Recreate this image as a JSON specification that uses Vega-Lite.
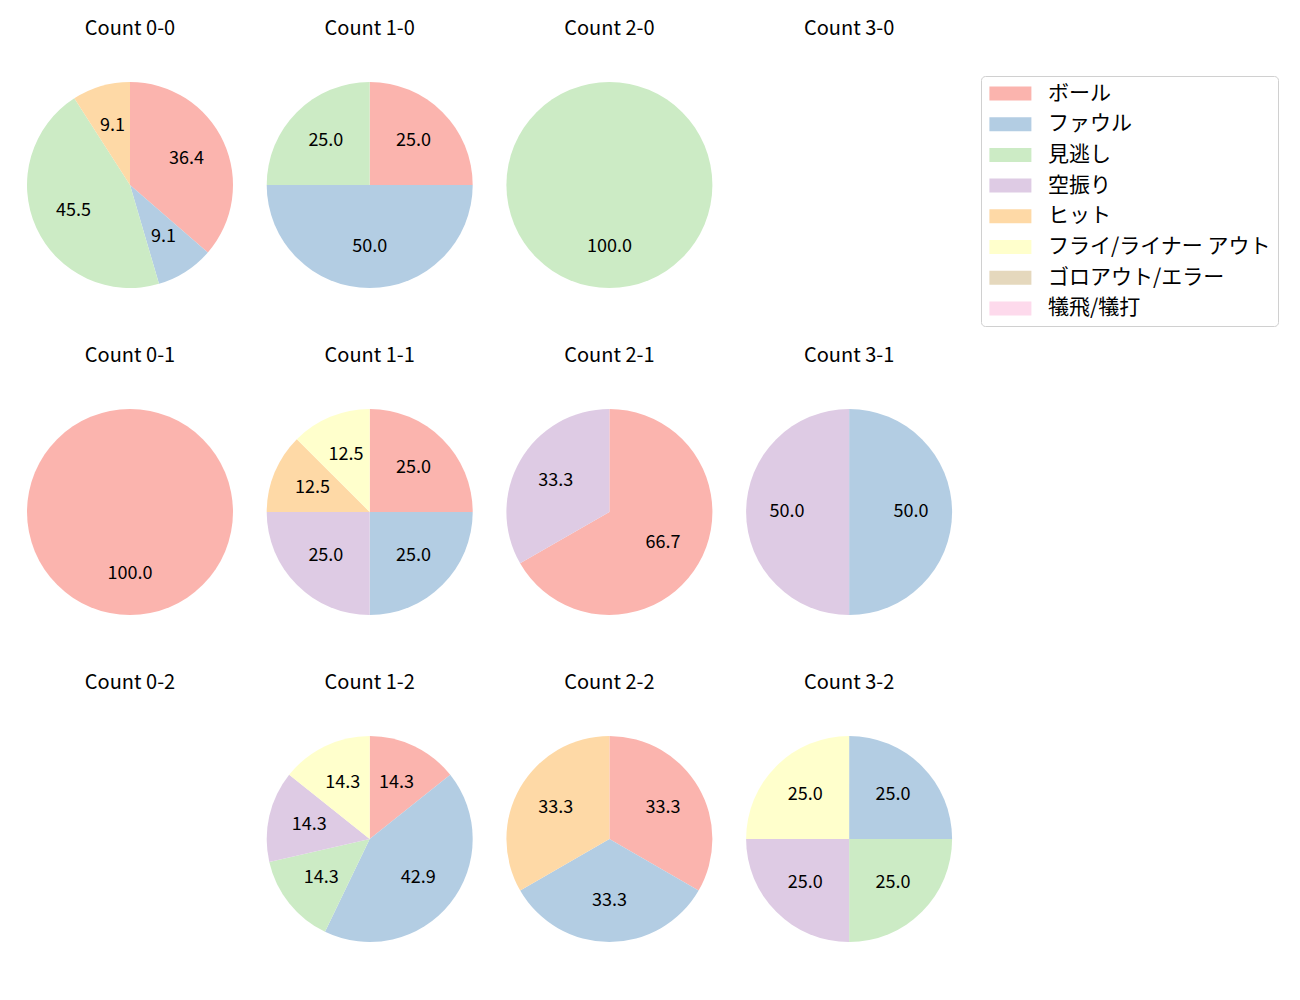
{
  "$schema": "https://vega.github.io/schema/vega-lite/v6.json",
  "padding": {"left": 27, "top": 19, "right": 5, "bottom": 5},
  "background": "white",
  "config": {
    "view": {"stroke": null},
    "font": "Noto Sans CJK JP",
    "title": {"font": "Noto Sans CJK JP", "fontSize": 20, "fontWeight": "normal", "color": "black", "baseline": "bottom", "offset": 43}
  },
  "data": {"values": [
    {"count": "0-0", "cat": "ボール", "o": 1, "v": 36.4},
    {"count": "0-0", "cat": "ファウル", "o": 2, "v": 9.1},
    {"count": "0-0", "cat": "見逃し", "o": 3, "v": 45.5},
    {"count": "0-0", "cat": "ヒット", "o": 5, "v": 9.1},
    {"count": "1-0", "cat": "ボール", "o": 1, "v": 25.0},
    {"count": "1-0", "cat": "ファウル", "o": 2, "v": 50.0},
    {"count": "1-0", "cat": "見逃し", "o": 3, "v": 25.0},
    {"count": "2-0", "cat": "見逃し", "o": 3, "v": 100.0},
    {"count": "0-1", "cat": "ボール", "o": 1, "v": 100.0},
    {"count": "1-1", "cat": "ボール", "o": 1, "v": 25.0},
    {"count": "1-1", "cat": "ファウル", "o": 2, "v": 25.0},
    {"count": "1-1", "cat": "空振り", "o": 4, "v": 25.0},
    {"count": "1-1", "cat": "ヒット", "o": 5, "v": 12.5},
    {"count": "1-1", "cat": "フライ/ライナー アウト", "o": 6, "v": 12.5},
    {"count": "2-1", "cat": "ボール", "o": 1, "v": 66.7},
    {"count": "2-1", "cat": "空振り", "o": 4, "v": 33.3},
    {"count": "3-1", "cat": "ファウル", "o": 2, "v": 50.0},
    {"count": "3-1", "cat": "空振り", "o": 4, "v": 50.0},
    {"count": "1-2", "cat": "ボール", "o": 1, "v": 14.3},
    {"count": "1-2", "cat": "ファウル", "o": 2, "v": 42.9},
    {"count": "1-2", "cat": "見逃し", "o": 3, "v": 14.3},
    {"count": "1-2", "cat": "空振り", "o": 4, "v": 14.3},
    {"count": "1-2", "cat": "フライ/ライナー アウト", "o": 6, "v": 14.3},
    {"count": "2-2", "cat": "ボール", "o": 1, "v": 33.3},
    {"count": "2-2", "cat": "ファウル", "o": 2, "v": 33.3},
    {"count": "2-2", "cat": "ヒット", "o": 5, "v": 33.3},
    {"count": "3-2", "cat": "ファウル", "o": 2, "v": 25.0},
    {"count": "3-2", "cat": "見逃し", "o": 3, "v": 25.0},
    {"count": "3-2", "cat": "空振り", "o": 4, "v": 25.0},
    {"count": "3-2", "cat": "フライ/ライナー アウト", "o": 6, "v": 25.0}
  ]},
  "columns": 4,
  "spacing": {"row": 58, "column": 33.7},
  "resolve": {"scale": {"theta": "independent"}},
  "concat": [
    {"title": "Count 0-0", "transform": [{"filter": "datum.count == '0-0'"}], "width": 206, "height": 206,
     "layer": [
      {"mark": {"type": "arc", "outerRadius": 103},
       "encoding": {
         "theta": {"field": "v", "type": "quantitative", "stack": true},
         "order": {"field": "o", "type": "quantitative"},
         "color": {"field": "cat", "type": "nominal",
           "scale": {"domain": ["ボール", "ファウル", "見逃し", "空振り", "ヒット", "フライ/ライナー アウト", "ゴロアウト/エラー", "犠飛/犠打"],
                     "range": ["#fbb4ae", "#b3cde3", "#ccebc5", "#decbe4", "#fed9a6", "#ffffcc", "#e5d8bd", "#fddaec"]},
           "legend": {"title": null, "orient": "none", "legendX": 954, "legendY": -6,
             "symbolType": "M-1.3,-1L4.7,-1L4.7,1L-1.3,1Z", "symbolSize": 196, "symbolStrokeWidth": 0, "symbolOpacity": 1,
             "labelFont": "Noto Sans CJK JP", "labelFontSize": 21, "labelColor": "black", "labelOffset": 39, "rowPadding": 8.7,
             "padding": 7, "strokeColor": "#d0d0d0", "cornerRadius": 4, "fillColor": "white", "labelLimit": 400}}}},
      {"mark": {"type": "text", "radius": 62, "fontSize": 18, "font": "Noto Sans CJK JP", "color": "black"},
       "encoding": {
         "theta": {"field": "v", "type": "quantitative", "stack": true},
         "order": {"field": "o", "type": "quantitative"},
         "text": {"field": "v", "type": "quantitative", "format": ".1f"}}}
     ]},
    {"title": "Count 1-0", "transform": [{"filter": "datum.count == '1-0'"}], "width": 206, "height": 206,
     "layer": [
      {"mark": {"type": "arc", "outerRadius": 103},
       "encoding": {"theta": {"field": "v", "type": "quantitative", "stack": true}, "order": {"field": "o", "type": "quantitative"}, "color": {"field": "cat", "type": "nominal"}}},
      {"mark": {"type": "text", "radius": 62, "fontSize": 18, "font": "Noto Sans CJK JP", "color": "black"},
       "encoding": {"theta": {"field": "v", "type": "quantitative", "stack": true}, "order": {"field": "o", "type": "quantitative"}, "text": {"field": "v", "type": "quantitative", "format": ".1f"}}}
     ]},
    {"title": "Count 2-0", "transform": [{"filter": "datum.count == '2-0'"}], "width": 206, "height": 206,
     "layer": [
      {"mark": {"type": "arc", "outerRadius": 103},
       "encoding": {"theta": {"field": "v", "type": "quantitative", "stack": true}, "order": {"field": "o", "type": "quantitative"}, "color": {"field": "cat", "type": "nominal"}}},
      {"mark": {"type": "text", "radius": 62, "fontSize": 18, "font": "Noto Sans CJK JP", "color": "black"},
       "encoding": {"theta": {"field": "v", "type": "quantitative", "stack": true}, "order": {"field": "o", "type": "quantitative"}, "text": {"field": "v", "type": "quantitative", "format": ".1f"}}}
     ]},
    {"title": "Count 3-0", "transform": [{"filter": "datum.count == '3-0'"}], "width": 206, "height": 206,
     "layer": [
      {"mark": {"type": "arc", "outerRadius": 103},
       "encoding": {"theta": {"field": "v", "type": "quantitative", "stack": true}, "order": {"field": "o", "type": "quantitative"}, "color": {"field": "cat", "type": "nominal"}}}
     ]},
    {"title": "Count 0-1", "transform": [{"filter": "datum.count == '0-1'"}], "width": 206, "height": 206,
     "layer": [
      {"mark": {"type": "arc", "outerRadius": 103},
       "encoding": {"theta": {"field": "v", "type": "quantitative", "stack": true}, "order": {"field": "o", "type": "quantitative"}, "color": {"field": "cat", "type": "nominal"}}},
      {"mark": {"type": "text", "radius": 62, "fontSize": 18, "font": "Noto Sans CJK JP", "color": "black"},
       "encoding": {"theta": {"field": "v", "type": "quantitative", "stack": true}, "order": {"field": "o", "type": "quantitative"}, "text": {"field": "v", "type": "quantitative", "format": ".1f"}}}
     ]},
    {"title": "Count 1-1", "transform": [{"filter": "datum.count == '1-1'"}], "width": 206, "height": 206,
     "layer": [
      {"mark": {"type": "arc", "outerRadius": 103},
       "encoding": {"theta": {"field": "v", "type": "quantitative", "stack": true}, "order": {"field": "o", "type": "quantitative"}, "color": {"field": "cat", "type": "nominal"}}},
      {"mark": {"type": "text", "radius": 62, "fontSize": 18, "font": "Noto Sans CJK JP", "color": "black"},
       "encoding": {"theta": {"field": "v", "type": "quantitative", "stack": true}, "order": {"field": "o", "type": "quantitative"}, "text": {"field": "v", "type": "quantitative", "format": ".1f"}}}
     ]},
    {"title": "Count 2-1", "transform": [{"filter": "datum.count == '2-1'"}], "width": 206, "height": 206,
     "layer": [
      {"mark": {"type": "arc", "outerRadius": 103},
       "encoding": {"theta": {"field": "v", "type": "quantitative", "stack": true}, "order": {"field": "o", "type": "quantitative"}, "color": {"field": "cat", "type": "nominal"}}},
      {"mark": {"type": "text", "radius": 62, "fontSize": 18, "font": "Noto Sans CJK JP", "color": "black"},
       "encoding": {"theta": {"field": "v", "type": "quantitative", "stack": true}, "order": {"field": "o", "type": "quantitative"}, "text": {"field": "v", "type": "quantitative", "format": ".1f"}}}
     ]},
    {"title": "Count 3-1", "transform": [{"filter": "datum.count == '3-1'"}], "width": 206, "height": 206,
     "layer": [
      {"mark": {"type": "arc", "outerRadius": 103},
       "encoding": {"theta": {"field": "v", "type": "quantitative", "stack": true}, "order": {"field": "o", "type": "quantitative"}, "color": {"field": "cat", "type": "nominal"}}},
      {"mark": {"type": "text", "radius": 62, "fontSize": 18, "font": "Noto Sans CJK JP", "color": "black"},
       "encoding": {"theta": {"field": "v", "type": "quantitative", "stack": true}, "order": {"field": "o", "type": "quantitative"}, "text": {"field": "v", "type": "quantitative", "format": ".1f"}}}
     ]},
    {"title": "Count 0-2", "transform": [{"filter": "datum.count == '0-2'"}], "width": 206, "height": 206,
     "layer": [
      {"mark": {"type": "arc", "outerRadius": 103},
       "encoding": {"theta": {"field": "v", "type": "quantitative", "stack": true}, "order": {"field": "o", "type": "quantitative"}, "color": {"field": "cat", "type": "nominal"}}}
     ]},
    {"title": "Count 1-2", "transform": [{"filter": "datum.count == '1-2'"}], "width": 206, "height": 206,
     "layer": [
      {"mark": {"type": "arc", "outerRadius": 103},
       "encoding": {"theta": {"field": "v", "type": "quantitative", "stack": true}, "order": {"field": "o", "type": "quantitative"}, "color": {"field": "cat", "type": "nominal"}}},
      {"mark": {"type": "text", "radius": 62, "fontSize": 18, "font": "Noto Sans CJK JP", "color": "black"},
       "encoding": {"theta": {"field": "v", "type": "quantitative", "stack": true}, "order": {"field": "o", "type": "quantitative"}, "text": {"field": "v", "type": "quantitative", "format": ".1f"}}}
     ]},
    {"title": "Count 2-2", "transform": [{"filter": "datum.count == '2-2'"}], "width": 206, "height": 206,
     "layer": [
      {"mark": {"type": "arc", "outerRadius": 103},
       "encoding": {"theta": {"field": "v", "type": "quantitative", "stack": true}, "order": {"field": "o", "type": "quantitative"}, "color": {"field": "cat", "type": "nominal"}}},
      {"mark": {"type": "text", "radius": 62, "fontSize": 18, "font": "Noto Sans CJK JP", "color": "black"},
       "encoding": {"theta": {"field": "v", "type": "quantitative", "stack": true}, "order": {"field": "o", "type": "quantitative"}, "text": {"field": "v", "type": "quantitative", "format": ".1f"}}}
     ]},
    {"title": "Count 3-2", "transform": [{"filter": "datum.count == '3-2'"}], "width": 206, "height": 206,
     "layer": [
      {"mark": {"type": "arc", "outerRadius": 103},
       "encoding": {"theta": {"field": "v", "type": "quantitative", "stack": true}, "order": {"field": "o", "type": "quantitative"}, "color": {"field": "cat", "type": "nominal"}}},
      {"mark": {"type": "text", "radius": 62, "fontSize": 18, "font": "Noto Sans CJK JP", "color": "black"},
       "encoding": {"theta": {"field": "v", "type": "quantitative", "stack": true}, "order": {"field": "o", "type": "quantitative"}, "text": {"field": "v", "type": "quantitative", "format": ".1f"}}}
     ]}
  ]
}
